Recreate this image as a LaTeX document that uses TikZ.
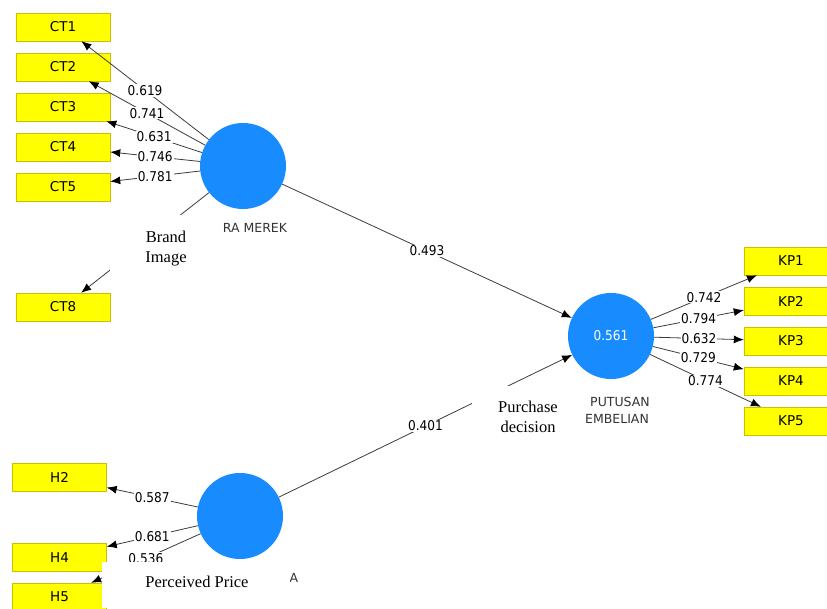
\documentclass[tikz,border=0pt]{standalone}
\usepackage{fontspec}
\setmainfont{Liberation Serif}
\newfontfamily\plsfont{DejaVu Sans}
\newfontfamily\plsnum{DejaVu Sans Condensed}
\usetikzlibrary{arrows.meta}
\definecolor{indyellow}{RGB}{255,255,0}
\definecolor{indedge}{RGB}{205,190,0}
\definecolor{latblue}{RGB}{24,140,255}
\definecolor{linkgray}{RGB}{60,60,60}
\begin{document}
\begin{tikzpicture}[x=1pt,y=-1pt,>={Latex[length=10pt,width=8pt,color=black]},
		ind/.style={draw=indedge,fill=indyellow,minimum width=94pt,minimum height=28pt,inner sep=0pt,font=\plsfont\fontsize{13.5}{13.5}\selectfont},
		lat/.style={circle,fill=latblue,minimum size=86pt,inner sep=0pt,text=white,font=\plsnum\fontsize{13.5}{13.5}\selectfont},
		load/.style={fill=white,inner sep=1pt,font=\plsnum\fontsize{13.5}{13.5}\selectfont},
		link/.style={->,draw=linkgray,line width=.8pt},
		latname/.style={text=black!80,inner sep=0pt,font=\plsfont\fontsize{12.5}{12.5}\selectfont},
		eng/.style={align=center,inner sep=0pt,font=\fontsize{16.5}{20}\selectfont}]
	\useasboundingbox (0,0) rectangle (827,608);
	\fill[white] (0,0) rectangle (827,608);
	% latent variables
	\node[lat] (ci) at (243,166) {};
	\node[lat] (kp) at (611,336) {0.561};
	\node[lat] (hp) at (240,516) {};
	% indicators
	\foreach \i/\y in {1/27,2/67,3/107,4/147,5/187,8/307}\node[ind] (ct\i) at (63,\y) {CT\i};
	\foreach \i/\y in {1/261,2/301,3/341,4/381,5/421}\node[ind] (kp\i) at (791,\y) {KP\i};
	\foreach \i/\y in {2/477.5,4/557.5,5/597}\node[ind] (h\i) at (59.5,\y) {H\i};
	% outer loadings
	\foreach \i/\v in {1/0.619,2/0.741,3/0.631,4/0.746,5/0.781}\draw[link] (ci)--(ct\i) node[load,midway]{\v};
	\draw[link] (ci)--(ct8);
	\foreach \i/\v in {1/0.742,2/0.794,3/0.632,4/0.729,5/0.774}\draw[link] (kp)--(kp\i) node[load,midway]{\v};
	\foreach \i/\v in {2/0.587,4/0.681,5/0.536}\draw[link] (hp)--(h\i) node[load,midway]{\v};
	% path coefficients
	\draw[link] (ci)--(kp) node[load,midway]{0.493};
	\draw[link] (hp)--(kp) node[load,midway]{0.401};
	% names
	\node[latname] (ciname) at (255,228) {RA MEREK};
	\node[latname] (kpname1) at (620,402) {PUTUSAN};
	\node[latname] (kpname2) at (617,419) {EMBELIAN};
	\node[latname] (hpname) at (294,578) {A};
	% pasted labels
	\fill[white] (110,215) rectangle (222,276);
	\fill[white] (472,386) rectangle (585,445);
	\fill[white] (102,562) rectangle (290,608);
	\node[eng] (cilabel) at (166,249) {Brand\\Image};
	\node[eng] (kplabel) at (528,417) {Purchase\\decision};
	\node[eng] (hplabel) at (197,582) {Perceived Price};
\end{tikzpicture}
\end{document}
